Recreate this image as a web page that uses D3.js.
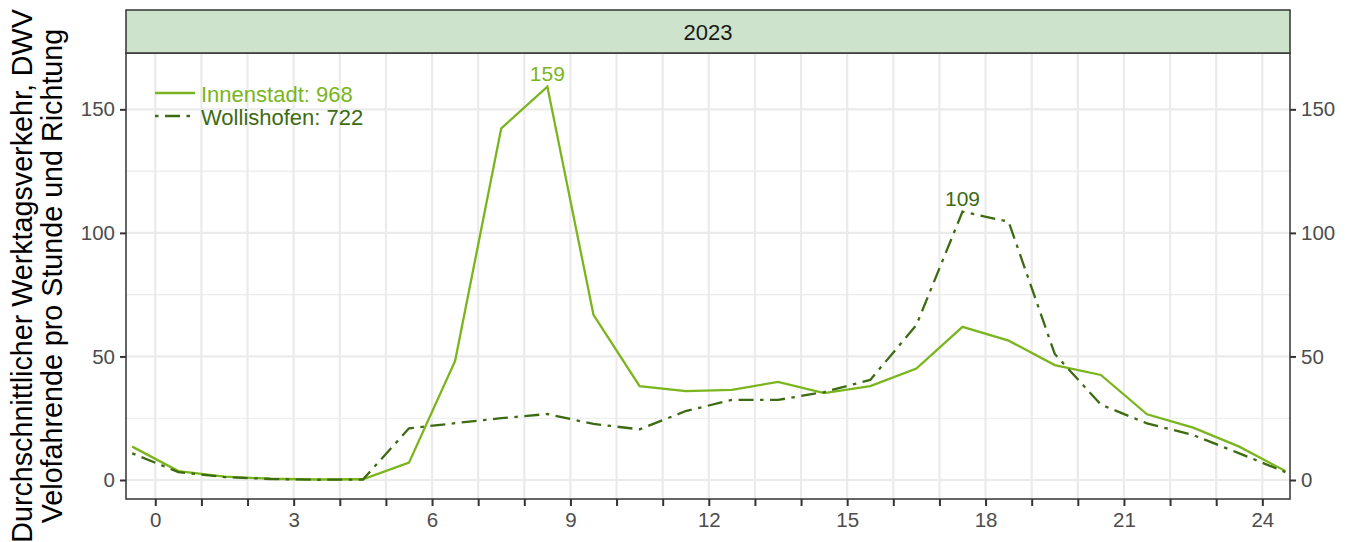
<!DOCTYPE html>
<html>
<head>
<meta charset="utf-8">
<script src="https://cdn.jsdelivr.net/npm/d3@7"></script>
<style>
  body { margin: 0; background: #fff; }
  text { font-family: "Liberation Sans", Arial, Helvetica, sans-serif; }
</style>
</head>
<body>
<svg width="1359" height="542"></svg>
<script>
// hourly values, hour h drawn at h + 0.5
const hours = d3.range(0, 24);
const innenstadt = [3.6, 1.4, 0.5, 0.2, 0.3, 7.0, 48.2, 142.3, 159.2, 66.8, 38.0, 36.0,
  36.5, 39.7, 35.2, 38.0, 45.1, 62.0, 56.4, 46.5, 42.5, 26.6, 21.2, 13.5];
const wollishofen = [3.2, 1.2, 0.4, 0.1, 0.2, 20.9, 23.0, 25.0, 26.7, 22.7, 20.5, 27.9,
  32.4, 32.4, 35.6, 40.5, 62.7, 108.6, 104.5, 51.0, 30.5, 22.9, 18.2, 10.8];

const seriesNames = ['Innenstadt', 'Wollishofen'];
const seriesTotals = [968, 722];
const seriesColors = ['#7ab51d', '#3d6b12'];
const yearLabel = '2023';

const yTicks = [0, 50, 100, 150];
const yMinor = [25, 75, 125];
const xTicks = d3.range(0, 25);
const xLabelled = [0, 3, 6, 9, 12, 15, 18, 21, 24];

const yTitle = ['Durchschnittlicher Werktagsverkehr, DWV', 'Velofahrende pro Stunde und Richtung'];

const margin = {left: 126, right: 1290, strip: 10, top: 53, bottom: 499};

const x = d3.scaleLinear().domain([-0.635, 24.6]).range([margin.left, margin.right]);
const y = d3.scaleLinear().domain([-7.69, 172.8]).range([margin.bottom, margin.top]);

const svg = d3.select('svg');

// gridlines
const grid = svg.append('g').attr('class', 'grid');
grid.selectAll('line.ymin')
  .data(yMinor)
  .enter()
  .append('line')
  .attr('x1', margin.left).attr('x2', margin.right)
  .attr('y1', d => y(d)).attr('y2', d => y(d))
  .attr('stroke', '#ebebeb').attr('stroke-width', 1.1);
grid.selectAll('line.ymaj')
  .data(yTicks)
  .enter()
  .append('line')
  .attr('x1', margin.left).attr('x2', margin.right)
  .attr('y1', d => y(d)).attr('y2', d => y(d))
  .attr('stroke', '#ebebeb').attr('stroke-width', 2.2);
grid.selectAll('line.x')
  .data(xTicks)
  .enter()
  .append('line')
  .attr('y1', margin.top).attr('y2', margin.bottom)
  .attr('x1', d => x(d)).attr('x2', d => x(d))
  .attr('stroke', '#ebebeb').attr('stroke-width', 2.2);

// lines, padded cyclically so the day wraps at both ends
const line = d3.line().x(d => x(d[0])).y(d => y(d[1]));
const padded = vals => [[-0.5, vals[23]]]
  .concat(hours.map((h, i) => [h + 0.5, vals[i]]))
  .concat([[24.5, vals[0]]]);

const dashes = [null, '3.5,6.5,15,6.5'];

[innenstadt, wollishofen].forEach((vals, i) => {
  svg.append('path')
    .datum(padded(vals))
    .attr('d', line)
    .attr('fill', 'none')
    .attr('stroke', seriesColors[i])
    .attr('stroke-width', 2.3)
    .attr('stroke-dasharray', dashes[i]);
});

// peak labels
[innenstadt, wollishofen].forEach((vals, i) => {
  const m = d3.maxIndex(vals);
  svg.append('text')
    .attr('x', x(hours[m] + 0.5))
    .attr('y', y(vals[m]) - 6)
    .attr('text-anchor', 'middle')
    .attr('font-size', 21)
    .attr('fill', seriesColors[i])
    .text(Math.round(vals[m]));
});

// legend
const legend = svg.append('g').attr('class', 'legend');
seriesNames.forEach((name, i) => {
  const ly = 93 + i * 23;
  legend.append('line')
    .attr('x1', 155).attr('x2', 195)
    .attr('y1', ly).attr('y2', ly)
    .attr('stroke', seriesColors[i])
    .attr('stroke-width', 2.3)
    .attr('stroke-dasharray', dashes[i]);
  legend.append('text')
    .attr('x', 201).attr('y', ly + 8.5)
    .attr('font-size', 22)
    .attr('fill', seriesColors[i])
    .text(`${name}: ${seriesTotals[i]}`);
});

// panel border
svg.append('rect')
  .attr('x', margin.left).attr('y', margin.top)
  .attr('width', margin.right - margin.left)
  .attr('height', margin.bottom - margin.top)
  .attr('fill', 'none').attr('stroke', '#333').attr('stroke-width', 1.5);

// strip
svg.append('rect')
  .attr('x', margin.left).attr('y', margin.strip)
  .attr('width', margin.right - margin.left)
  .attr('height', margin.top - margin.strip)
  .attr('fill', '#cde3cb').attr('stroke', '#333').attr('stroke-width', 1.5);
svg.append('text')
  .attr('x', (margin.left + margin.right) / 2)
  .attr('y', (margin.strip + margin.top) / 2 + 8)
  .attr('text-anchor', 'middle')
  .attr('font-size', 22)
  .attr('fill', '#1a1a1a')
  .text(yearLabel);

// axes
const fmtX = d => xLabelled.includes(d) ? d : '';
const xAxis = svg.append('g')
  .attr('transform', `translate(0,${margin.bottom})`)
  .call(d3.axisBottom(x).tickValues(xTicks).tickFormat(fmtX).tickSize(7).tickPadding(6));
const yAxisL = svg.append('g')
  .attr('transform', `translate(${margin.left},0)`)
  .call(d3.axisLeft(y).tickValues(yTicks).tickSize(6).tickPadding(5));
const yAxisR = svg.append('g')
  .attr('transform', `translate(${margin.right},0)`)
  .call(d3.axisRight(y).tickValues(yTicks).tickSize(6).tickPadding(5));

[xAxis, yAxisL, yAxisR].forEach(a => {
  a.select('.domain').remove();
  a.selectAll('.tick line').attr('stroke', '#333').attr('stroke-width', 2);
  a.selectAll('.tick text')
    .attr('font-size', 20.5)
    .attr('fill', '#4d4d4d')
    .attr('font-family', '"Liberation Sans", Arial, sans-serif');
});

// y title
const yt = svg.append('text')
  .attr('transform', `translate(0,${(margin.top + margin.bottom) / 2}) rotate(-90)`)
  .attr('text-anchor', 'middle')
  .attr('font-size', 28.7)
  .attr('fill', '#000');
yTitle.forEach((t, i) => {
  yt.append('tspan').attr('x', 0).attr('y', 32 + i * 30).text(t);
});
</script>
</body>
</html>
